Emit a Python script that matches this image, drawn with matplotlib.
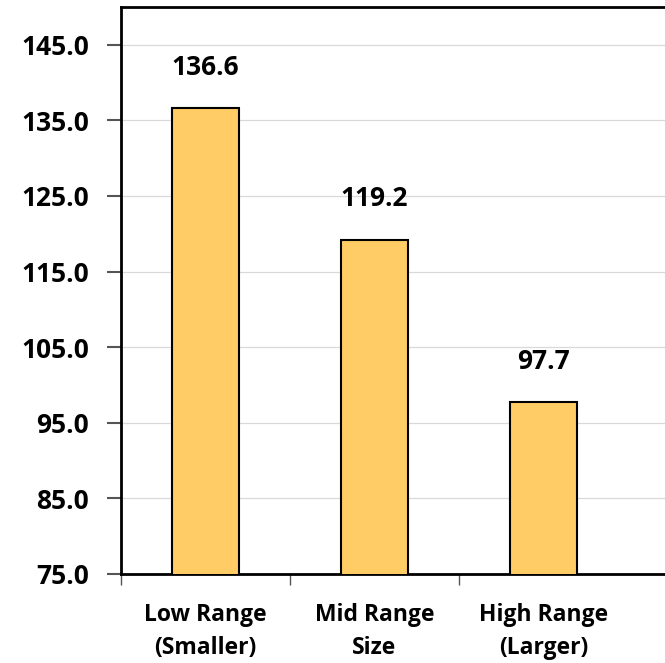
import matplotlib
matplotlib.use('Agg')
import matplotlib.pyplot as plt
import numpy as np

categories = ['Low Range\n(Smaller)', 'Mid Range\nSize', 'High Range\n(Larger)']
values = [136.6, 119.2, 97.7]
y_ticks = [75.0, 85.0, 95.0, 105.0, 115.0, 125.0, 135.0, 145.0]

plt.rcParams['font.family'] = ['Open Sans', 'DejaVu Sans']

fig = plt.figure(figsize=(6.65, 6.63), dpi=100)
ax = fig.add_axes([121 / 665, 89 / 663, 1 - 121 / 665, (574 - 7) / 663])

x = np.arange(len(categories))
ax.bar(x, values, width=0.4, bottom=0, color='#FFCC66', edgecolor='black',
       linewidth=1.5, zorder=3)

for xi, v in zip(x, values):
    ax.annotate(f'{v:.1f}', (xi, v), xytext=(0, 29.5), textcoords='offset points',
                ha='center', va='center', fontsize=19, fontweight='bold')

ax.set_ylim(75, 150)
ax.set_xlim(-0.485, 2.72)
ax.set_yticks(y_ticks)
ax.set_yticklabels([f'{t:.1f}' for t in y_ticks], fontsize=19, fontweight='bold')
ax.yaxis.grid(True, color='#d9d9d9', linewidth=0.9, zorder=0)

ax.set_xticks(x)
ax.set_xticklabels(categories, fontsize=16.5, fontweight='bold', linespacing=1.5)
ax.tick_params(axis='x', length=0, pad=21)
ax.set_xticks([-0.5, 0.5, 1.5], minor=True)
ax.tick_params(axis='x', which='minor', length=8, color='#555555', width=1)
ax.tick_params(axis='y', length=10, color='#555555', width=1.5, pad=13)

for side in ['left', 'top', 'bottom']:
    ax.spines[side].set_color('black')
    ax.spines[side].set_linewidth(2)
ax.spines['right'].set_visible(False)

fig.savefig('out.png', dpi=100)
